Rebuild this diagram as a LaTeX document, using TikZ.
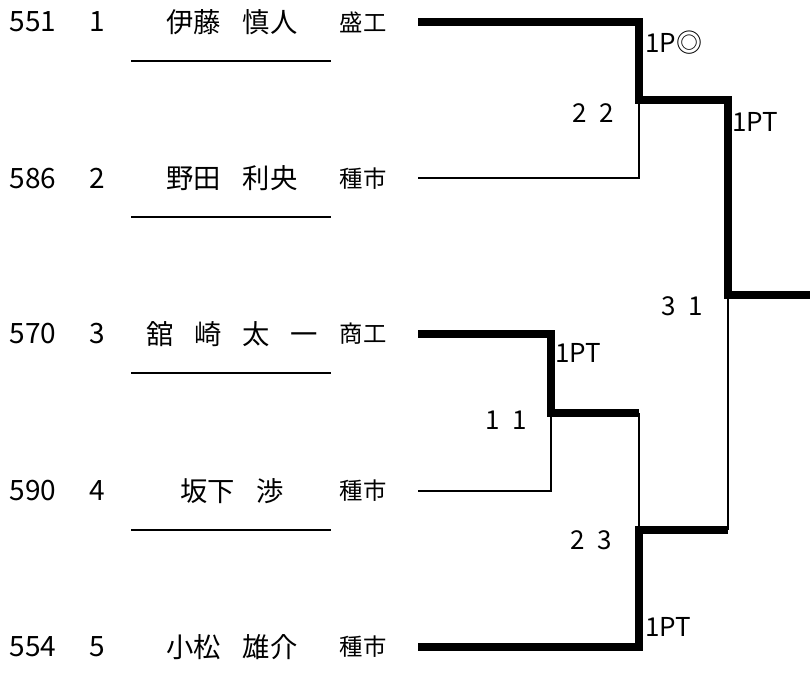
\documentclass[tikz,border=0pt]{standalone}
\usepackage{fontspec}
\setmainfont{Noto Sans CJK JP}
\usetikzlibrary{shapes,arrows}
\tikzstyle{entry} = [inner sep=0pt, font=\fontsize{21}{24}\selectfont]
\tikzstyle{player} = [inner sep=0pt, font=\fontsize{20.5}{24}\selectfont]
\tikzstyle{school} = [inner sep=0pt, font=\fontsize{17.5}{20}\selectfont]
\tikzstyle{score} = [inner sep=0pt, font=\fontsize{19.5}{22}\selectfont]
\tikzstyle{wintag} = [inner sep=0pt, anchor=west, font=\fontsize{19.5}{22}\selectfont]
\tikzstyle{winline} = [line width=5.6pt]
\tikzstyle{loseline} = [line width=2.2pt]
\tikzstyle{underline} = [line width=2.2pt]

\begin{document}
\begin{tikzpicture}[x=0.75pt,y=-0.75pt]
  \useasboundingbox (0,0) rectangle (810,684);

  % entries
  \node[entry] (E1) at (33,22) {551};
  \node[entry] (S1) at (97,22) {1};
  \node[player] (P1) at (232,22) {伊藤\hspace{.8em}慎人};
  \node[school] (K1) at (363,22) {盛工};

  \node[entry] (E2) at (33,178.5) {586};
  \node[entry] (S2) at (97,178.5) {2};
  \node[player] (P2) at (232,178.5) {野田\hspace{.8em}利央};
  \node[school] (K2) at (363,178.5) {種市};

  \node[entry] (E3) at (33,334) {570};
  \node[entry] (S3) at (97,334) {3};
  \node[player] (P3) at (232,334) {舘\hspace{.75em}崎\hspace{.75em}太\hspace{.75em}一};
  \node[school] (K3) at (363,334) {商工};

  \node[entry] (E4) at (33,491) {590};
  \node[entry] (S4) at (97,491) {4};
  \node[player] (P4) at (232,491) {坂下\hspace{.8em}渉};
  \node[school] (K4) at (363,491) {種市};

  \node[entry] (E5) at (33,647) {554};
  \node[entry] (S5) at (97,647) {5};
  \node[player] (P5) at (232,647) {小松\hspace{.8em}雄介};
  \node[school] (K5) at (363,647) {種市};

  \draw[underline] (131,61) -- (331,61);
  \draw[underline] (131,217) -- (331,217);
  \draw[underline] (131,373) -- (331,373);
  \draw[underline] (131,530) -- (331,530);

  % bracket points
  \coordinate (a1) at (418,22);
  \coordinate (a2) at (418,178);
  \coordinate (a3) at (418,334);
  \coordinate (a4) at (418,491);
  \coordinate (a5) at (418,647);
  \coordinate (m12) at (639,100);
  \coordinate (m34) at (551,413);
  \coordinate (w34) at (639,413);
  \coordinate (m345) at (639,530);
  \coordinate (q) at (728,530);
  \coordinate (f) at (728,295);
  \coordinate (fin) at (812,295);

  \draw[loseline] (a2) -| (m12);
  \draw[loseline] (a4) -| (m34);
  \draw[loseline] (w34) -- (m345);
  \draw[loseline] (q) -- (f);
  \draw[winline] (a1) -| (m12) -| (f) -- (fin);
  \draw[winline] (a3) -| (m34) -- (w34);
  \draw[winline] (a5) -| (m345) -- (q);

  % results
  \node[wintag] (T12) at (645,43) {1P◎};
  \node[wintag] (Tf) at (732,122) {1PT};
  \node[wintag] (T34) at (555,353) {1PT};
  \node[wintag] (T5) at (645,627) {1PT};
  \node[score] (N12) at (593,113) {2\hspace{.5em}2};
  \node[score] (Nf) at (682,306) {3\hspace{.5em}1};
  \node[score] (N34) at (506,420) {1\hspace{.5em}1};
  \node[score] (N345) at (591,540) {2\hspace{.5em}3};

\end{tikzpicture}
\end{document}
